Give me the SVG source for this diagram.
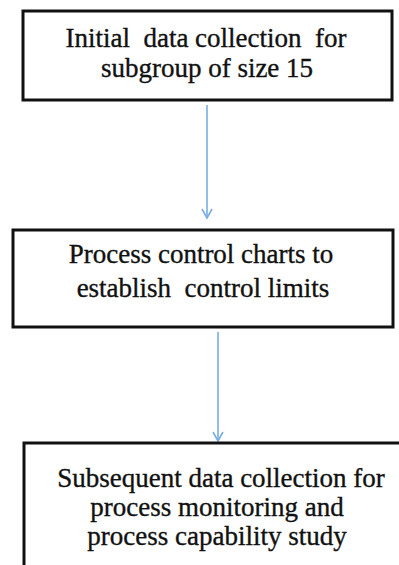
<svg xmlns="http://www.w3.org/2000/svg" width="399" height="565" viewBox="0 0 399 565">
<defs>
<style>
.box{fill:#fff;stroke:#111;stroke-width:3}
.t{font-family:'Liberation Serif','Times New Roman',serif;font-size:27px;fill:#111;stroke:#111;stroke-width:0.35;text-anchor:middle}
.c{stroke:#7aaee0;stroke-width:1.6;fill:none}
</style>
<marker id="ah" markerWidth="12" markerHeight="12" refX="10" refY="6" orient="auto" markerUnits="userSpaceOnUse" viewBox="0 0 12 12">
<path d="M1,1 L10,6 L1,11" fill="none" stroke="#7aaee0" stroke-width="1.6"/>
</marker>
</defs>
<rect width="399" height="565" fill="#fff"/>
<g id="connectors">
<line class="c" x1="207" y1="105" x2="207" y2="218" marker-end="url(#ah)"/>
<line class="c" x1="218" y1="332" x2="218" y2="441" marker-end="url(#ah)"/>
</g>
<g id="n1">
<rect class="box" x="23" y="11" width="369" height="89"/>
<text class="t" x="206" y="47" xml:space="preserve">Initial  data collection  for</text>
<text class="t" x="207" y="77">subgroup of size 15</text>
</g>
<g id="n2">
<rect class="box" x="13" y="230" width="380" height="97"/>
<text class="t" x="201" y="263">Process control charts to</text>
<text class="t" x="203" y="297" xml:space="preserve">establish  control limits</text>
</g>
<g id="n3">
<rect class="box" x="24" y="443" width="390" height="140"/>
<text class="t" x="221" y="487">Subsequent data collection for</text>
<text class="t" x="217" y="516">process monitoring and</text>
<text class="t" x="217" y="545">process capability study</text>
</g>
</svg>
